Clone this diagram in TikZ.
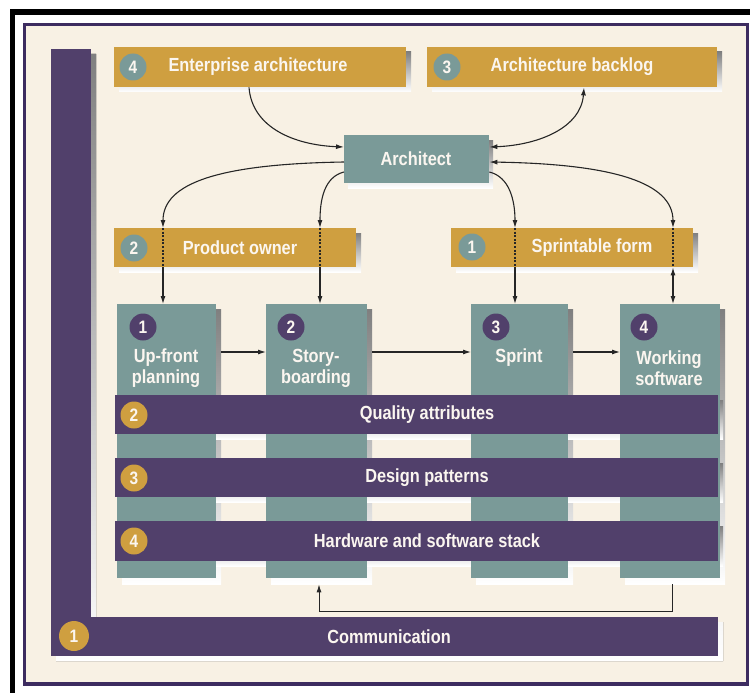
\documentclass[tikz,border=0pt]{standalone}
\usepackage{fontspec}
\setmainfont{Liberation Sans}[FakeStretch=0.86]
\usetikzlibrary{arrows.meta,calc}

\definecolor{cream}{HTML}{F8F1E4}
\definecolor{plum}{HTML}{51406B}
\definecolor{framepl}{HTML}{3D2C60}
\definecolor{gold}{HTML}{CF9F40}
\definecolor{slate}{HTML}{7A9A98}
\definecolor{shade}{HTML}{BDB1AA}
\definecolor{ink}{HTML}{262626}
\definecolor{paper}{HTML}{FBF6F0}

\tikzset{
  panel/.style={rectangle, inner sep=0pt, anchor=north west, draw=none},
  goldbox/.style={panel, fill=gold},
  slatebox/.style={panel, fill=slate},
  plumbar/.style={panel, fill=plum},
  lbl/.style={text=paper, font=\bfseries\fontsize{19}{21}\selectfont, inner sep=0pt, align=center},
  num/.style={circle, minimum size=27pt, inner sep=0pt, text=paper,
              font=\bfseries\fontsize{18}{18}\selectfont},
  conn/.style={draw=ink, line width=1.1pt},
  tip/.style={-{Latex[length=8pt,width=5pt]}},
  tips/.style={{Latex[length=8pt,width=5pt]}-{Latex[length=8pt,width=5pt]}},
  through/.style={conn, dash pattern=on 2pt off 1.6pt}
}

\begin{document}
\begin{tikzpicture}[x=1pt, y=-1pt]
\useasboundingbox (0,0) rectangle (750,693);

% outer black frame and inner panel
\fill[black] (10,9) rectangle (750,15);
\fill[black] (10,9) rectangle (15,693);
\draw[framepl, line width=3.5pt, fill=cream] (24.5,24.5) rectangle (747.5,684);

% drop shadows
\fill[shade] (56,54) -- (96,54) -- (96,622) -- (723,622) -- (723,661) -- (56,661) -- cycle;
\fill[shade] (119,52) rectangle (411,92);
\fill[shade] (432,52) rectangle (722,92);
\fill[shade] (348,140) rectangle (493,188);
\fill[shade] (119,233) rectangle (361,272);
\fill[shade] (456,233) rectangle (698,272);
\fill[shade] (122,309) rectangle (221,584);
\fill[shade] (271,309) rectangle (372,584);
\fill[shade] (476,309) rectangle (573,584);
\fill[shade] (625,309) rectangle (725,584);
\fill[shade] (120,400) rectangle (723,439);
\fill[shade] (120,463) rectangle (723,502);
\fill[shade] (120,526) rectangle (723,566);

% communication bar (L shape)
\node[plumbar, minimum width=40pt, minimum height=607pt] (comv) at (51,49) {};
\node[plumbar, minimum width=667pt, minimum height=39pt] (com) at (51,617) {};
\node[num, fill=gold, minimum width=28pt, minimum height=30pt] (comn) at (74,636) {1};
\node[lbl] (comt) at (389,637) {Communication};

% top row
\node[goldbox, minimum width=292pt, minimum height=40pt] (ea) at (114,47) {};
\node[num, fill=slate] (ean) at (133,67) {4};
\node[lbl] (eat) at (258,67) {Enterprise architecture};

\node[goldbox, minimum width=290pt, minimum height=40pt] (ab) at (427,47) {};
\node[num, fill=slate] (abn) at (447,67) {3};
\node[lbl] (abt) at (572,67) {Architecture backlog};

\node[slatebox, minimum width=145pt, minimum height=48pt] (arch) at (344,135) {};
\node[lbl] (archt) at (416,159) {Architect};

% second row
\node[goldbox, minimum width=242pt, minimum height=39pt] (po) at (114,228) {};
\node[num, fill=slate] (pon) at (134,248) {2};
\node[lbl] (pot) at (240,248) {Product owner};

\node[goldbox, minimum width=242pt, minimum height=39pt] (sf) at (451,228) {};
\node[num, fill=slate] (sfn) at (472,247) {1};
\node[lbl] (sft) at (592,248) {Sprintable form};

% process columns
\node[slatebox, minimum width=99pt, minimum height=274pt] (up) at (117,304) {};
\node[slatebox, minimum width=101pt, minimum height=274pt] (sb) at (266,304) {};
\node[slatebox, minimum width=97pt, minimum height=274pt] (sp) at (471,304) {};
\node[slatebox, minimum width=100pt, minimum height=274pt] (ws) at (620,304) {};

\node[num, fill=plum] (upn) at (143,327) {1};
\node[num, fill=plum] (sbn) at (291,327) {2};
\node[num, fill=plum] (spn) at (496,327) {3};
\node[num, fill=plum] (wsn) at (644,327) {4};

\node[lbl] (upt) at (166,368) {Up-front\\planning};
\node[lbl] (sbt) at (316,368) {Story-\\boarding};
\node[lbl] (spt) at (519,358) {Sprint};
\node[lbl] (wst) at (669,368) {Working\\software};

% cross-cutting bands
\node[plumbar, minimum width=603pt, minimum height=39pt] (qa) at (115,395) {};
\node[num, fill=gold] (qan) at (134,415) {2};
\node[lbl] (qat) at (427,415) {Quality attributes};

\node[plumbar, minimum width=603pt, minimum height=39pt] (dp) at (115,458) {};
\node[num, fill=gold] (dpn) at (134,478) {3};
\node[lbl] (dpt) at (427,478) {Design patterns};

\node[plumbar, minimum width=603pt, minimum height=40pt] (hw) at (115,521) {};
\node[num, fill=gold] (hwn) at (134,541) {4};
\node[lbl] (hwt) at (427,541) {Hardware and software stack};

% attachment points on the architect box
\coordinate (aw1) at ($(arch.north west)+(0,12)$);
\coordinate (aw2) at ($(arch.north west)+(0,27)$);
\coordinate (aw3) at ($(arch.north west)+(0,37)$);
\coordinate (ae1) at ($(arch.north east)+(0,12)$);
\coordinate (ae2) at ($(arch.north east)+(0,27)$);
\coordinate (ae3) at ($(arch.north east)+(0,37)$);

% drop points through the product owner / sprintable form boxes
\coordinate (p1t) at ($(po.north west)+(49,0)$);
\coordinate (p1b) at ($(po.south west)+(49,0)$);
\coordinate (p2t) at ($(po.north west)+(206,0)$);
\coordinate (p2b) at ($(po.south west)+(206,0)$);
\coordinate (s1t) at ($(sf.north west)+(64,0)$);
\coordinate (s1b) at ($(sf.south west)+(64,0)$);
\coordinate (s2t) at ($(sf.north west)+(222,0)$);
\coordinate (s2b) at ($(sf.south west)+(222,0)$);

% connectors around the architect
\draw[conn, tip] ($(ea.south west)+(135,0)$) .. controls +(3,40) and +(-50,-2) .. (aw1);
\draw[conn, tips] (ae1) .. controls +(50,-2) and +(-3,40) .. ($(ab.south west)+(157,0)$);
\draw[conn, tip] (aw2) .. controls +(-125,2) and +(0,-45) .. (p1t);
\draw[conn, tip] (aw3) .. controls +(-20,5) and +(0,-28) .. (p2t);
\draw[conn, tip] (ae3) .. controls +(20,5) and +(0,-28) .. (s1t);
\draw[conn, tips] (ae2) .. controls +(125,2) and +(0,-45) .. (s2t);

\draw[through] (p1t) -- (p1b);
\draw[through] (p2t) -- (p2b);
\draw[through] (s1t) -- (s1b);
\draw[through] (s2t) -- (s2b);

\draw[conn, tip] (p1b) -- ($(up.north west)+(46,0)$);
\draw[conn, tip] (p2b) -- ($(sb.north west)+(54,0)$);
\draw[conn, tip] (s1b) -- ($(sp.north west)+(44,0)$);
\draw[conn, tips] (s2b) -- ($(ws.north west)+(53,0)$);

% process flow
\draw[conn, tip] ($(up.north east)+(5,48)$) -- ($(sb.north west)+(0,48)$);
\draw[conn, tip] ($(sb.north east)+(5,48)$) -- ($(sp.north west)+(0,48)$);
\draw[conn, tip] ($(sp.north east)+(5,48)$) -- ($(ws.north west)+(0,48)$);

% feedback loop from working software back to storyboarding
\draw[conn, line width=0.9pt, tip] ($(ws.south west)+(52,6)$) -- ++(0,27) -| ($(sb.south west)+(53,6)$);
\end{tikzpicture}
\end{document}
